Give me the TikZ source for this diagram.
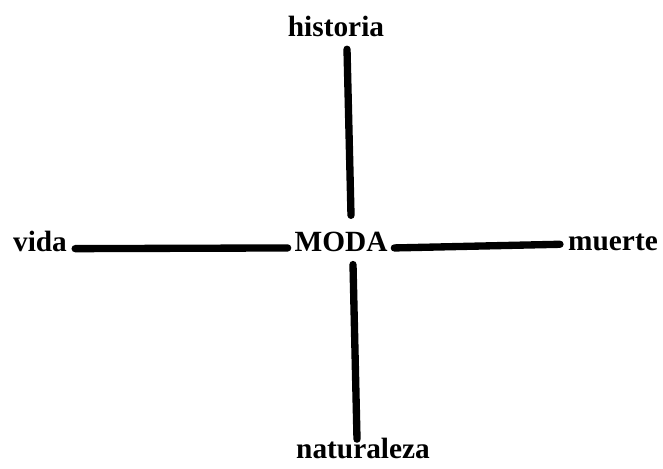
\documentclass[tikz,border=0pt]{standalone}
\usepackage{fontspec}
\setmainfont{Liberation Serif}
\tikzset{
  lbl/.style={font=\bfseries\fontsize{22}{24}\selectfont, inner sep=3pt, anchor=base},
  bar/.style={line width=5.5pt, line cap=round}
}
\begin{document}
\begin{tikzpicture}[x=0.75pt, y=-0.75pt]
    \useasboundingbox (0,0) rectangle (663,468);

    % Terminos
    \node[lbl] (moda) at (341,251) {MODA};
    \node[lbl] (historia) at (336,36.7) {historia};
    \node[lbl] (naturaleza) at (363,458) {naturaleza};
    \node[lbl] (vida) at (40,251.7) {vida};
    \node[lbl] (muerte) at (613,250) {muerte};

    % Ejes
    \draw[bar] ([xshift=8.25pt, yshift=-6pt]historia.south) -- ([xshift=7.5pt, yshift=9pt]moda.north);
    \draw[bar] ([xshift=9pt, yshift=-6.75pt]moda.south) -- ([xshift=-4.5pt, yshift=-4.3pt]naturaleza.north);
    \draw[bar] ([xshift=3pt]vida.mid east) -- ([xshift=-2pt]moda.mid west);
    \draw[bar] ([xshift=2pt]moda.mid east) -- ([xshift=-3pt, yshift=2pt]muerte.mid west);
\end{tikzpicture}
\end{document}
